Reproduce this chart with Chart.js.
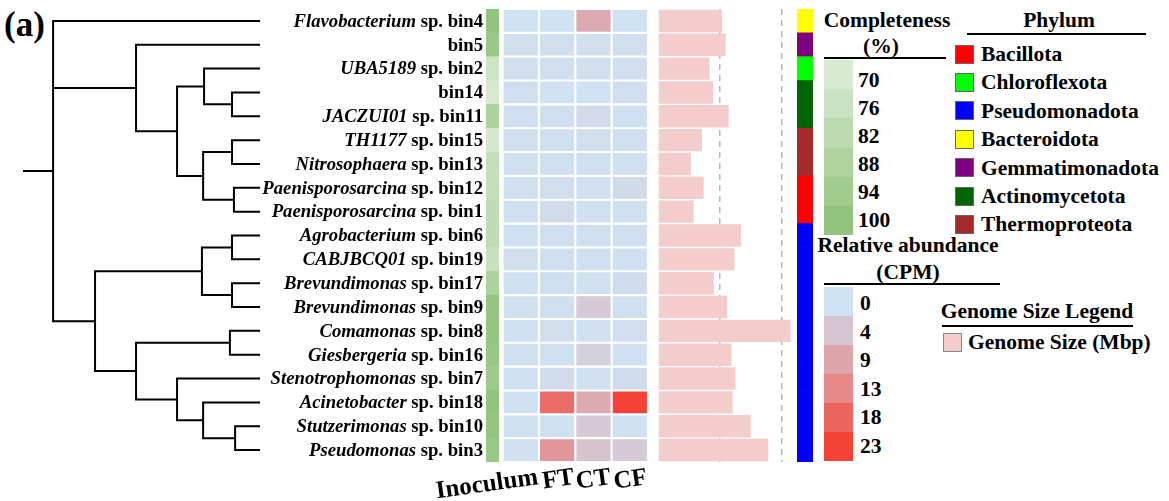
<!DOCTYPE html>
<html>
<head>
<meta charset="utf-8">
<title>MAG overview</title>
<script src="https://cdn.jsdelivr.net/npm/chart.js@4.4.0/dist/chart.umd.min.js"></script>
<style>
    html, body { margin: 0; padding: 0; background: #fff; }
    #page {
        position: relative; width: 1169px; height: 501px; overflow: hidden;
        font-family: "Liberation Serif", "Times New Roman", serif; font-weight: bold; color: #000;
    }
    .box { position: absolute; top: 0; height: 501px; }
    .txt { position: absolute; font-size: 21.5px; line-height: 20px; white-space: nowrap; }
    .rule { position: absolute; height: 2px; background: #000; }
    .block { position: absolute; }
</style>
</head>
<body>
<div id="page">
    <div class="txt" style="left:4px;top:7px;font-size:35px;line-height:35px">(a)</div>
    <div class="box" style="left:0;width:490px"><canvas id="treeChart"></canvas></div>
    <div class="box" style="left:486px;width:13px"><canvas id="completenessChart"></canvas></div>
    <div class="box" style="left:430px;width:220px"><canvas id="heatmapChart"></canvas></div>
    <div class="box" style="left:600px;width:200px"><canvas id="genomeChart"></canvas></div>
    <div class="box" style="left:797px;width:16px"><canvas id="phylumChart"></canvas></div>
    <div id="legends"></div>
</div>

<script>
// ---- data (rows top to bottom) ----
const binNames = ['bin4', 'bin5', 'bin2', 'bin14', 'bin11', 'bin15', 'bin13', 'bin12', 'bin1', 'bin6',
    'bin19', 'bin17', 'bin9', 'bin8', 'bin16', 'bin7', 'bin18', 'bin10', 'bin3'];
const genusNames = ['Flavobacterium', '', 'UBA5189', '', 'JACZUI01', 'TH1177', 'Nitrosophaera',
    'Paenisporosarcina', 'Paenisporosarcina', 'Agrobacterium', 'CABJBCQ01', 'Brevundimonas', 'Brevundimonas',
    'Comamonas', 'Giesbergeria', 'Stenotrophomonas', 'Acinetobacter', 'Stutzerimonas', 'Pseudomonas'];

// completeness (%)
const completeness = [100, 97, 75, 71, 89, 72, 79, 79, 81, 81, 77, 89, 99, 99, 98, 95, 100, 99, 97];

// relative abundance (CPM) per sample
const sampleNames = ['Inoculum', 'FT', 'CT', 'CF'];
const inoculumCpm = [0, 0.6, 0.6, 0.4, 0.5, 0.5, 0.2, 0.2, 0.2, 0.2, 0.6, 0.3, 0.2, 0.2, 0.2, 0.2, 0.2, 0.2, 0.3];
const ftCpm = [0, 0.6, 0.6, 0, 0.5, 0.3, 0.2, 0.6, 1.0, 0.5, 0.5, 0.5, 0.5, 0.6, 0.2, 0.9, 17, 0.2, 11];
const ctCpm = [8, 0.6, 0.6, 0, 1.0, 0.6, 0.2, 0.2, 0.2, 0.5, 0.2, 0.3, 3.5, 0.4, 2.5, 0.2, 8, 3.5, 4.5];
const cfCpm = [0, 0.6, 0.6, 0.4, 0.3, 0.4, 0.3, 1.2, 0.2, 0.5, 0.2, 0.8, 0.2, 0.6, 0.2, 0.8, 23, 0.2, 3.5];

// genome size (Mbp) and its dashed reference lines
const genomeSizeMbp = [2.59, 2.73, 2.08, 2.22, 2.85, 1.77, 1.33, 1.84, 1.44, 3.35,
    3.08, 2.25, 2.79, 5.35, 2.96, 3.12, 3.01, 3.74, 4.45];
const genomeGridMbp = [0, 2.5, 5];

// phylum of each bin
const binPhylum = ['Bacteroidota', 'Gemmatimonadota', 'Chloroflexota', 'Actinomycetota', 'Actinomycetota',
    'Thermoproteota', 'Thermoproteota', 'Bacillota', 'Bacillota', 'Pseudomonadota', 'Pseudomonadota',
    'Pseudomonadota', 'Pseudomonadota', 'Pseudomonadota', 'Pseudomonadota', 'Pseudomonadota',
    'Pseudomonadota', 'Pseudomonadota', 'Pseudomonadota'];
const phylumNames = ['Bacillota', 'Chloroflexota', 'Pseudomonadota', 'Bacteroidota',
    'Gemmatimonadota', 'Actinomycetota', 'Thermoproteota'];
const phylumColors = ['#ff0000', '#00ff00', '#0000ff', '#ffff00', '#800080', '#006400', '#a52a2a'];

// legend ticks
const completenessTicks = [70, 76, 82, 88, 94, 100];
const cpmTicks = [0, 4, 9, 13, 18, 23];

// tree: internal node name, depth (0 = root stub, 100 = tips), children (row index or node name)
const TIP_DEPTH = 100;
const treeNodes = [
    ['root', 12.7, [0, 'n1', 'n2']],
    ['n1', 47.7, [1, 'n3']],
    ['n3', 65, ['n4', 'n5']],
    ['n4', 76.4, [2, 'n6']],
    ['n6', 88.2, [3, 4]],
    ['n5', 76, ['n7', 'n8']],
    ['n7', 88.2, [5, 6]],
    ['n8', 89, [7, 8]],
    ['n2', 30.4, ['n9', 'n10']],
    ['n9', 75.5, ['n11', 'n12']],
    ['n11', 88.2, [9, 10]],
    ['n12', 88.2, [11, 12]],
    ['n10', 47.7, ['n13', 'n14']],
    ['n13', 87.3, [13, 14]],
    ['n14', 65, [15, 'n15']],
    ['n15', 76, [16, 'n16']],
    ['n16', 89.5, [17, 18]]
];

// ---- layout shared by all row charts (rows span y 9..462) ----
const ROW_PAD = { top: 9, bottom: 39 };
const SERIF = '"Liberation Serif", "Times New Roman", serif';

// Linear colour mix between two hex colours
function mixColor(c0, c1, t) {
    t = Math.max(0, Math.min(1, t));
    const a = [1, 3, 5].map(i => parseInt(c0.substr(i, 2), 16));
    const b = [1, 3, 5].map(i => parseInt(c1.substr(i, 2), 16));
    const c = a.map((v, i) => Math.round(v + (b[i] - v) * t));
    return `rgb(${c[0]}, ${c[1]}, ${c[2]})`;
}

function cpmColor(v) {
    return mixColor('#cfe2f3', '#f44336', v / cpmTicks[cpmTicks.length - 1]);
}

function completenessColor(v) {
    const lo = completenessTicks[0], hi = completenessTicks[completenessTicks.length - 1];
    return mixColor('#d9ead3', '#93c47d', (v - lo) / (hi - lo));
}

function phylumColor(name) {
    return phylumColors[phylumNames.indexOf(name)];
}

// common options for the row-aligned charts
function rowChartOptions(padLeft, padRight, xScale) {
    return {
        responsive: true,
        maintainAspectRatio: false,
        animation: false,
        indexAxis: 'y',
        layout: { padding: { left: padLeft, right: padRight, top: ROW_PAD.top, bottom: ROW_PAD.bottom } },
        plugins: { legend: { display: false }, tooltip: { enabled: false } },
        scales: {
            x: xScale,
            y: { type: 'category', labels: binNames, display: false }
        }
    };
}

document.addEventListener('DOMContentLoaded', function() {
    createTreeChart();
    createCompletenessChart();
    createHeatmapChart();
    createGenomeChart();
    createPhylumChart();
    buildLegends();
});

// Build dendrogram line segments (null points break the line)
function buildTreeSegments() {
    const depth = {}, kids = {};
    treeNodes.forEach(n => { depth[n[0]] = n[1]; kids[n[0]] = n[2]; });
    const yOf = c => typeof c === 'number' ? c : (yOf(kids[c][0]) + yOf(kids[c][kids[c].length - 1])) / 2;
    const xOf = c => typeof c === 'number' ? TIP_DEPTH : depth[c];
    const pts = [];
    const seg = (x0, y0, x1, y1) => pts.push({ x: x0, y: y0 }, { x: x1, y: y1 }, { x: null, y: null });

    seg(0, yOf('root'), depth.root, yOf('root'));
    treeNodes.forEach(([name, d, children]) => {
        seg(d, yOf(children[0]), d, yOf(children[children.length - 1]));
        children.forEach(c => seg(d, yOf(c), xOf(c), yOf(c)));
    });
    return pts;
}

// Dendrogram + taxon labels
function createTreeChart() {
    const labelPlugin = {
        id: 'taxonLabels',
        afterDraw(chart) {
            const ctx = chart.ctx;
            const ys = chart.scales.y;
            const right = 483;
            ctx.save();
            ctx.fillStyle = '#000';
            ctx.textBaseline = 'middle';
            ctx.textAlign = 'left';
            binNames.forEach((bin, i) => {
                const y = ys.getPixelForValue(i) + 1;
                const genus = genusNames[i];
                const suffix = genus ? ' sp. ' + bin : bin;
                ctx.font = `bold 18.7px ${SERIF}`;
                const sw = ctx.measureText(suffix).width;
                ctx.fillText(suffix, right - sw, y);
                if (genus) {
                    ctx.font = `italic bold 18.7px ${SERIF}`;
                    const gw = ctx.measureText(genus).width;
                    ctx.fillText(genus, right - sw - gw, y);
                }
            });
            ctx.restore();
        }
    };

    const options = rowChartOptions(23, 230, { type: 'linear', min: 0, max: TIP_DEPTH, display: false });
    options.indexAxis = 'x';
    options.scales.y = { type: 'linear', min: -0.5, max: binNames.length - 0.5, reverse: true, display: false };

    new Chart(document.getElementById('treeChart'), {
        type: 'line',
        data: {
            datasets: [{
                data: buildTreeSegments(),
                borderColor: '#000',
                borderWidth: 2,
                borderCapStyle: 'square',
                pointRadius: 0,
                spanGaps: false,
                tension: 0
            }]
        },
        options: options,
        plugins: [labelPlugin]
    });
}

// Completeness strip
function createCompletenessChart() {
    new Chart(document.getElementById('completenessChart'), {
        type: 'bar',
        data: {
            labels: binNames,
            datasets: [{
                data: completeness.map(() => [0, 1]),
                backgroundColor: completeness.map(completenessColor),
                borderWidth: 0,
                barPercentage: 1,
                categoryPercentage: 1
            }]
        },
        options: rowChartOptions(0, 0, { type: 'linear', min: 0, max: 1, display: false })
    });
}

// Relative abundance heatmap
function createHeatmapChart() {
    const heatSeries = [inoculumCpm, ftCpm, ctCpm, cfCpm];

    const sampleLabelPlugin = {
        id: 'sampleLabels',
        afterDraw(chart) {
            const ctx = chart.ctx;
            const xs = chart.scales.x;
            ctx.save();
            ctx.fillStyle = '#000';
            ctx.font = `bold 25px ${SERIF}`;
            ctx.textAlign = 'right';
            ctx.textBaseline = 'alphabetic';
            sampleNames.forEach((name, j) => {
                ctx.save();
                ctx.translate(xs.getPixelForValue(j + 0.5) + 18, 484);
                ctx.rotate(-8 * Math.PI / 180);
                ctx.fillText(name, 0, 0);
                ctx.restore();
            });
            ctx.restore();
        }
    };

    new Chart(document.getElementById('heatmapChart'), {
        type: 'bar',
        data: {
            datasets: heatSeries.map((vals, j) => ({
                label: sampleNames[j],
                data: vals.map((v, i) => ({ x: [j, j + 1], y: binNames[i] })),
                backgroundColor: vals.map(cpmColor),
                borderColor: '#ffffff',
                borderWidth: 1.4,
                borderSkipped: false,
                barPercentage: 1,
                categoryPercentage: 1,
                grouped: false
            }))
        },
        options: rowChartOptions(72.6, 2, { type: 'linear', min: 0, max: sampleNames.length, display: false }),
        plugins: [sampleLabelPlugin]
    });
}

// Genome size bars
function createGenomeChart() {
    new Chart(document.getElementById('genomeChart'), {
        type: 'bar',
        data: {
            labels: binNames,
            datasets: [{
                label: 'Genome Size (Mbp)',
                data: genomeSizeMbp,
                backgroundColor: '#f4cccc',
                borderWidth: 0,
                barPercentage: 0.94,
                categoryPercentage: 1
            }]
        },
        options: rowChartOptions(58, 5.6, {
            type: 'linear',
            min: 0,
            max: 5.5,
            afterBuildTicks: scale => { scale.ticks = genomeGridMbp.map(v => ({ value: v })); },
            ticks: { display: false },
            grid: {
                drawTicks: false,
                lineWidth: 1.5,
                color: ctx => (ctx.tick && ctx.tick.value > 0) ? '#b8b8b8' : 'rgba(0,0,0,0)'
            },
            border: { display: false, dash: [6, 5] }
        })
    });
}

// Phylum strip
function createPhylumChart() {
    new Chart(document.getElementById('phylumChart'), {
        type: 'bar',
        data: {
            labels: binNames,
            datasets: [{
                data: binPhylum.map(() => [0, 1]),
                backgroundColor: binPhylum.map(phylumColor),
                borderWidth: 0,
                barPercentage: 1,
                categoryPercentage: 1
            }]
        },
        options: rowChartOptions(0, 0, { type: 'linear', min: 0, max: 1, display: false })
    });
}

// ---- legends (html) ----
function addText(parent, text, left, centerY, center) {
    const el = document.createElement('div');
    el.className = 'txt';
    el.textContent = text;
    el.style.top = (centerY - 10) + 'px';
    el.style.left = left + 'px';
    if (center) el.style.transform = 'translateX(-50%)';
    parent.appendChild(el);
}

function addRule(parent, left, top, width) {
    const el = document.createElement('div');
    el.className = 'rule';
    el.style.left = left + 'px';
    el.style.top = top + 'px';
    el.style.width = width + 'px';
    parent.appendChild(el);
}

function addBlock(parent, left, top, width, height, color, border) {
    const el = document.createElement('div');
    el.className = 'block';
    el.style.left = left + 'px';
    el.style.top = top + 'px';
    el.style.width = width + 'px';
    el.style.height = height + 'px';
    el.style.background = color;
    if (border) {
        el.style.boxSizing = 'border-box';
        el.style.border = '1px solid ' + border;
    }
    parent.appendChild(el);
}

function buildLegends() {
    const box = document.getElementById('legends');

    // Completeness
    addText(box, 'Completeness', 887, 20, true);
    addText(box, '(%)', 881, 46, true);
    addRule(box, 824, 57, 122);
    completenessTicks.forEach((t, i) => {
        addBlock(box, 824, 60 + i * 29.2, 29, 29.4, completenessColor(t));
        addText(box, String(t), 858, 79.5 + i * 28.1);
    });

    // Phylum
    addText(box, 'Phylum', 1059, 20, true);
    addRule(box, 967, 33, 179);
    phylumNames.forEach((name, i) => {
        addBlock(box, 955, 44.5 + i * 28.4, 19, 19, phylumColors[i], '#666');
        addText(box, name, 981, 54 + i * 28.4);
    });

    // Relative abundance
    addText(box, 'Relative abundance', 908, 245, true);
    addText(box, '(CPM)', 908, 272, true);
    addRule(box, 824, 283, 176);
    cpmTicks.forEach((t, i) => {
        addBlock(box, 824, 287 + i * 29, 29, 29.2, cpmColor(t));
        addText(box, String(t), 860, 303 + i * 28.6);
    });

    // Genome size
    addText(box, 'Genome Size Legend', 1037, 311, true);
    addRule(box, 942, 325, 191);
    addBlock(box, 943, 333, 19, 19, '#f4cccc', '#8a8a8a');
    addText(box, 'Genome Size (Mbp)', 968, 342);
}
</script>
</body>
</html>
